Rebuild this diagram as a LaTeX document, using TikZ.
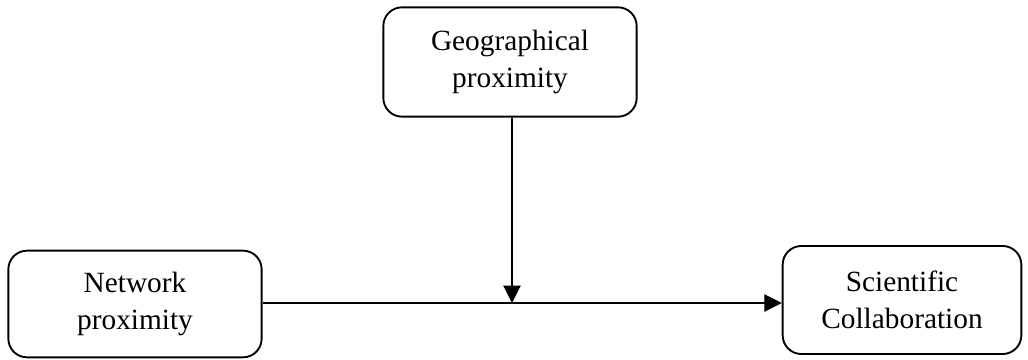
\documentclass[tikz,border=0pt]{standalone}
\usepackage{fontspec}
\setmainfont{Liberation Serif}
\usetikzlibrary{arrows.meta}
\begin{document}
\begin{tikzpicture}[x=0.75pt,y=-0.75pt,
  box/.style={draw, line width=1.4pt, rounded corners=14pt, align=center,
    font=\fontsize{22}{28}\selectfont, inner sep=0pt},
  conn/.style={line width=0.8pt, -{Triangle[length=13pt,width=13pt]}}]
\useasboundingbox (0,0) rectangle (1028,360);
\node[box, minimum width=190pt, minimum height=82pt] (geo) at (510,62) {Geographical\\proximity};
\node[box, minimum width=190pt, minimum height=80pt] (net) at (135,304) {Network\\proximity};
\node[box, minimum width=179pt, minimum height=81pt] (sci) at (902,300) {Scientific\\Collaboration};
\coordinate (j) at (512,303);
\draw[conn] (net.east |- j) -- (sci.west |- j);
\draw[conn] (geo.south -| j) -- (j);
\end{tikzpicture}
\end{document}
